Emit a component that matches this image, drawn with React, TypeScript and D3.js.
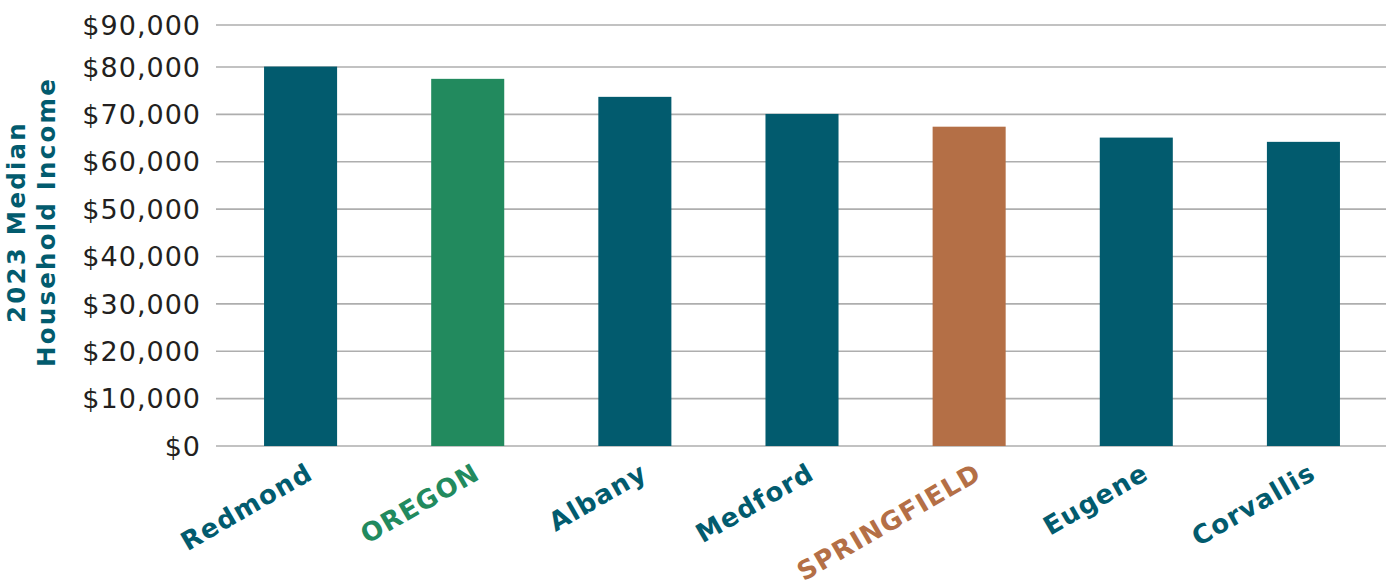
import React from "react";
import * as d3 from "d3";

const categories = ["Redmond", "OREGON", "Albany", "Medford", "SPRINGFIELD", "Eugene", "Corvallis"];
const values = [80100, 77500, 73700, 70100, 67400, 65100, 64200];
const colorKeys = ["city", "state", "city", "city", "focus", "city", "city"];
const tickValues = [0, 10000, 20000, 30000, 40000, 50000, 60000, 70000, 80000, 90000];
const titleLines = ["2023 Median", "Household Income"];

const palette: Record<string, string> = {
  city: "#025B6E",
  state: "#228A5E",
  focus: "#B46F46",
};

const W = 1391;
const H = 588;

export default function App() {
  const x = d3
    .scaleBand<string>()
    .domain(categories)
    .range([217, 1387])
    .paddingInner(0.563)
    .paddingOuter(0.2815);
  const y = d3.scaleLinear().domain([0, 80000, 90000]).range([446, 67, 25]);
  const fmt = (v: number) => "$" + d3.format(",")(v);
  const labelFont = "'DejaVu Sans', sans-serif";

  return (
    <svg
      width={W}
      height={H}
      style={{ position: "absolute", left: 0, top: 0, background: "#fff" }}
    >
      {tickValues.map((t) => (
        <g key={t}>
          <line x1={216} x2={1386} y1={y(t)} y2={y(t)} stroke="#AEAEAE" strokeWidth={1.6} />
          <text
            x={201}
            y={y(t)}
            dy="0.36em"
            textAnchor="end"
            fontFamily={labelFont}
            fontSize={27}
            letterSpacing={1}
            fill="#231F20"
          >
            {fmt(t)}
          </text>
        </g>
      ))}
      {categories.map((c, i) => (
        <rect
          key={c}
          x={x(c)}
          width={x.bandwidth()}
          y={y(values[i])}
          height={y(0) - y(values[i])}
          fill={palette[colorKeys[i]]}
        />
      ))}
      {categories.map((c, i) => {
        const cx = (x(c) as number) + x.bandwidth() / 2;
        return (
          <text
            key={c}
            transform={`translate(${cx + 14},${478}) rotate(-30)`}
            textAnchor="end"
            fontFamily={labelFont}
            fontWeight="bold"
            fontSize={26}
            letterSpacing={1.2}
            fill={palette[colorKeys[i]]}
          >
            {c}
          </text>
        );
      })}
      {titleLines.map((l, i) => (
        <text
          key={l}
          transform={`translate(${25 + i * 30},${222}) rotate(-90)`}
          textAnchor="middle"
          fontFamily={labelFont}
          fontWeight="bold"
          fontSize={24.5}
          letterSpacing={2.2}
          fill="#025B6E"
        >
          {l}
        </text>
      ))}
    </svg>
  );
}
